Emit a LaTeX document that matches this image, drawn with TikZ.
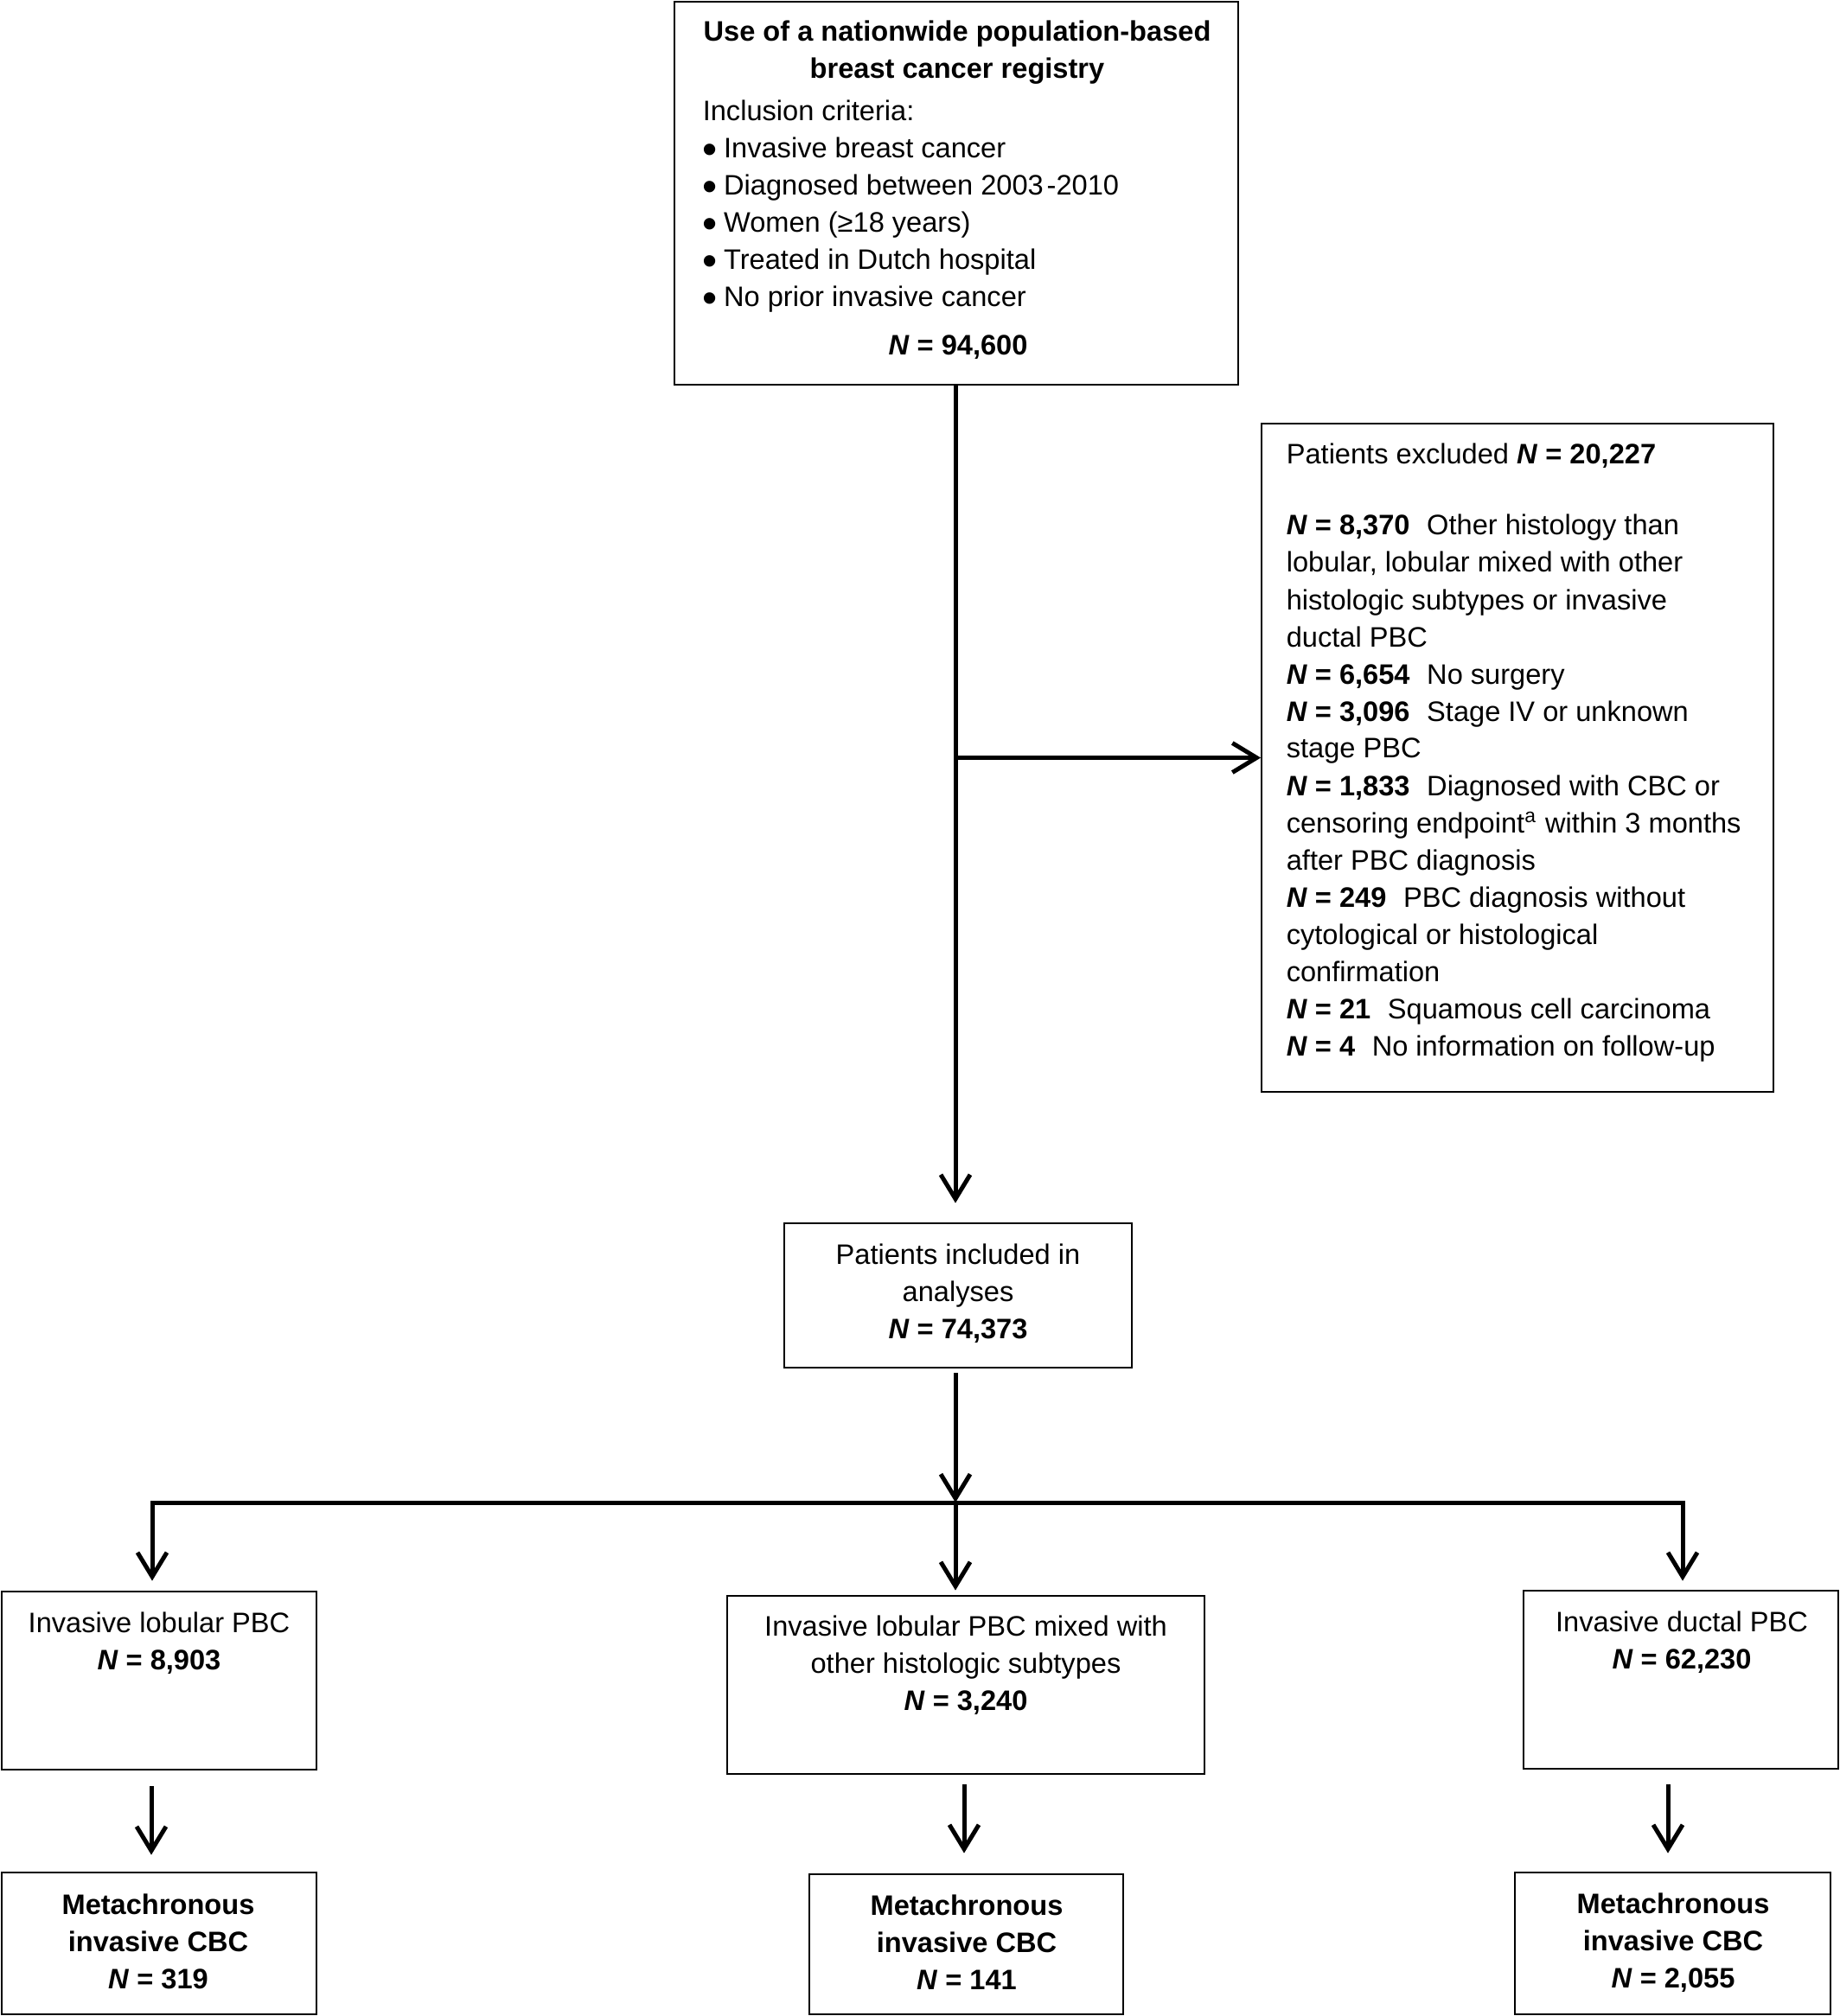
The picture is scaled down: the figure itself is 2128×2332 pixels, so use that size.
\documentclass[tikz,border=0pt]{standalone}
\usepackage{fontspec}
\setmainfont{Liberation Sans}
\usetikzlibrary{arrows.meta,fit}
\newcommand\fsz{\fontsize{8.15pt}{10.75pt}\selectfont}
\newcommand\nn[1]{\textbf{\textit{N} = #1}}
\newcommand\gp{\hspace{0.6em}}
\newcommand\bul{\raisebox{-1.6pt}{\scalebox{1.5}{\textbullet}}\hspace{1.8pt}}
\begin{document}
\begin{tikzpicture}[x=0.25pt,y=-0.25pt,
  box/.style={draw=black, line width=0.7pt, inner sep=0pt},
  thinbox/.style={draw=black, line width=0.45pt, inner sep=0pt},
  txt/.style={inner sep=0pt, anchor=base, font=\fsz},
  conn/.style={line width=1.25pt, draw=black, -{Straight Barb[length=7pt,width=8.5pt]}}]
\useasboundingbox (0,0) rectangle (2128,2332);

% boxes
\node[box, fit={(780,2) (1432,445)}] (top) {};
\node[thinbox, fit={(1459,490) (2051,1263)}] (excl) {};
\node[box, fit={(907,1415) (1309,1582)}] (incl) {};
\node[box, fit={(2,1841) (366,2047)}] (L) {};
\node[box, fit={(841,1846) (1393,2052)}] (M) {};
\node[box, fit={(1762,1840) (2126,2046)}] (R) {};
\node[box, fit={(2,2166) (366,2330)}] (BL) {};
\node[box, fit={(936,2168) (1299,2330)}] (BM) {};
\node[box, fit={(1752,2166) (2117,2330)}] (BR) {};

% texts
\node[txt] (title) at (1107,48) {\parbox[t]{180pt}{\centering\bfseries Use of a nationwide population-based\\ breast cancer registry}};
\node[txt, anchor=base west] (crit) at (812,140) {\parbox[t]{160pt}{\raggedright Inclusion criteria:\\
\bul Invasive breast cancer\\
\bul Diagnosed between 2003\hspace{0.12em}-2010\\
\bul Women (≥18 years)\\
\bul Treated in Dutch hospital\\
\bul No prior invasive cancer}};
\node[txt] (topn) at (1108,411) {\nn{94,600}};

\node[txt, anchor=base west] (excltxt) at (1487,537) {\parbox[t]{170pt}{\raggedright
Patients excluded \nn{20,227}\\[9.75pt]
\nn{8,370}\gp Other histology than\\
lobular, lobular mixed with other\\
histologic subtypes or invasive\\
ductal PBC\\
\nn{6,654}\gp No surgery\\
\nn{3,096}\gp Stage IV or unknown\\
stage PBC\\
\nn{1,833}\gp Diagnosed with CBC or\\
censoring endpoint\textsuperscript{a} within 3 months\\
after PBC diagnosis\\
\nn{249}\gp PBC diagnosis without\\
cytological or histological\\
confirmation\\
\nn{21}\gp Squamous cell carcinoma\\
\nn{4}\gp No information on follow-up}};

\node[txt] (incltxt) at (1108,1462) {\parbox[t]{110pt}{\centering Patients included in\\ analyses\\ \nn{74,373}}};
\node[txt] (Ltxt) at (184,1888) {\parbox[t]{90pt}{\centering Invasive lobular PBC\\ \nn{8,903}}};
\node[txt] (Mtxt) at (1117,1892) {\parbox[t]{135pt}{\centering Invasive lobular PBC mixed with\\ other histologic subtypes\\ \nn{3,240}}};
\node[txt] (Rtxt) at (1945,1887) {\parbox[t]{90pt}{\centering Invasive ductal PBC\\ \nn{62,230}}};
\node[txt] (BLtxt) at (183,2214) {\parbox[t]{90pt}{\centering\bfseries Metachronous\\ invasive CBC\\ \nn{319}}};
\node[txt] (BMtxt) at (1118,2215) {\parbox[t]{90pt}{\centering\bfseries Metachronous\\ invasive CBC\\ \nn{141}}};
\node[txt] (BRtxt) at (1935,2213) {\parbox[t]{90pt}{\centering\bfseries Metachronous\\ invasive CBC\\ \nn{2,055}}};

% connectors
\coordinate (bus) at (1105,1738);
\coordinate (xLa) at (176,0);
\coordinate (xRa) at (1946,0);
\coordinate (xLb) at (175,0);
\coordinate (xMb) at (1115,0);
\coordinate (xRb) at (1929,0);

\draw[conn, shorten >=5.5pt] (top.south -| bus) -- (incl.north -| bus);
\draw[conn] (excl.west -| bus) -- (excl.west);
\draw[conn, shorten <=1.25pt] (incl.south -| bus) -- (bus);
\draw[conn, shorten >=2.75pt] (bus) -| (L.north -| xLa);
\draw[conn, shorten >=2.5pt] (bus) -| (R.north -| xRa);
\draw[conn, shorten >=1.25pt] (bus) -- (M.north -| bus);
\draw[conn, shorten <=4.5pt, shorten >=4.75pt] (L.south -| xLb) -- (BL.north -| xLb);
\draw[conn, shorten <=2.75pt, shorten >=5.75pt] (M.south -| xMb) -- (BM.north -| xMb);
\draw[conn, shorten <=4.25pt, shorten >=5.25pt] (R.south -| xRb) -- (BR.north -| xRb);
\end{tikzpicture}
\end{document}
